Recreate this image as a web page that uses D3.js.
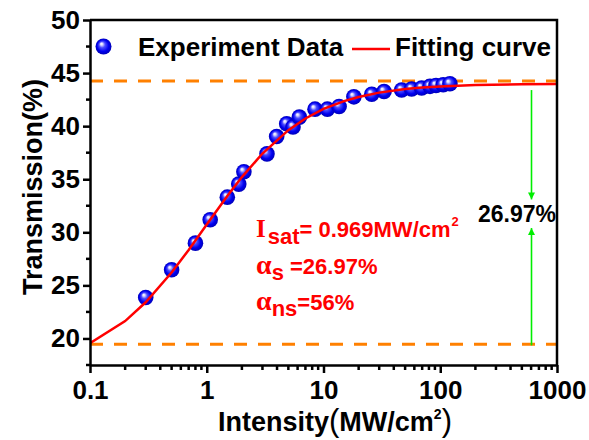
<!DOCTYPE html>
<html>
<head>
<meta charset="utf-8">
<script src="https://cdn.jsdelivr.net/npm/d3@7"></script>
<style>
  html, body { margin: 0; padding: 0; background: #fff; }
  svg { display: block; }
  text { font-family: "Liberation Sans", Arial, sans-serif; font-weight: bold; }
</style>
</head>
<body>
<svg id="chart" width="589" height="440"></svg>
<script>
// Measured transmission vs. incident intensity
const intensity = [0.30, 0.50, 0.80, 1.07, 1.50, 1.88, 2.08, 3.28, 3.97, 4.84, 5.48, 6.21,
                   8.46, 10.8, 13.6, 18.2, 25.9, 33.0, 46.7, 56.9, 69.3, 81.7, 92, 106, 121];
const transmission = [23.86, 26.47, 28.98, 31.18, 33.31, 34.54, 35.70, 37.39, 39.02, 40.22, 39.93, 40.85,
                      41.60, 41.60, 41.85, 42.76, 43.00, 43.26, 43.40, 43.50, 43.60, 43.75, 43.83, 43.90, 44.00];

// Saturable-absorption fitting curve (sampled)
const fitIntensity = [0.1, 0.2, 0.3, 0.5, 0.7, 1, 1.5, 2, 3, 5, 7, 10, 15, 20, 30, 50, 70, 100, 200, 500, 1000];
const fitTransmission = [19.55, 21.64, 23.41, 26.21, 28.34, 30.73, 33.42, 35.20, 37.42, 39.62, 40.72, 41.62,
                         42.36, 42.75, 43.16, 43.49, 43.63, 43.74, 43.87, 43.95, 43.97];

// Reference levels and modulation depth marker
const levelHigh = 44.25;
const levelLow = 19.45;
const arrowTop = [43.4, 33.1];     // start, tip
const arrowBottom = [19.35, 30.4]; // start, tip

const xTickValues = [0.1, 1, 10, 100, 1000];
const xTickLabels = ["0.1", "1", "10", "100", "1000"];
const yTickValues = [20, 25, 30, 35, 40, 45, 50];
const yMinorValues = [17.5, 22.5, 27.5, 32.5, 37.5, 42.5, 47.5];

const svg = d3.select("#chart");
const mLeft = 90, mRight = 557, mTop = 20, mBottom = 365;

const x = d3.scaleLog().domain([0.1, 1000]).range([mLeft, mRight]);
const y = d3.scaleLinear().domain([17.5, 50]).range([mBottom, mTop]);

// glossy sphere marker
const defs = svg.append("defs");
const grad = defs.append("radialGradient").attr("id", "ball")
  .attr("cx", "50%").attr("cy", "50%").attr("r", "50%")
  .attr("fx", "36%").attr("fy", "32%");
[["0%", "#ffffff"], ["14%", "#dcdcff"], ["38%", "#4b4bff"], ["72%", "#0000f0"], ["100%", "#0000b8"]]
  .forEach(([o, c]) => grad.append("stop").attr("offset", o).attr("stop-color", c));
defs.append("clipPath").attr("id", "plotClip").append("rect")
  .attr("x", mLeft).attr("y", mTop).attr("width", mRight - mLeft).attr("height", mBottom - mTop);

const plot = svg.append("g").attr("clip-path", "url(#plotClip)");

// dashed reference levels
[levelHigh, levelLow].forEach(v => {
  plot.append("line")
    .attr("x1", mLeft).attr("x2", mRight)
    .attr("y1", y(v)).attr("y2", y(v))
    .attr("stroke", "#ff8000").attr("stroke-width", 3)
    .attr("stroke-dasharray", "13,11");
});

// green arrows
defs.append("marker").attr("id", "arrowHead")
  .attr("viewBox", "0 0 10 10").attr("refX", 10).attr("refY", 5)
  .attr("markerWidth", 10).attr("markerHeight", 7).attr("orient", "auto")
  .attr("markerUnits", "userSpaceOnUse")
  .append("path").attr("d", "M0,0 L10,5 L0,10 Z").attr("fill", "#00ee00");
const ax = 531.5;
[arrowTop, arrowBottom].forEach(a => {
  plot.append("line")
    .attr("x1", ax).attr("x2", ax)
    .attr("y1", y(a[0])).attr("y2", y(a[1]))
    .attr("stroke", "#00ee00").attr("stroke-width", 1.6)
    .attr("marker-end", "url(#arrowHead)");
});

// data points
plot.append("g").selectAll("circle")
  .data(intensity.map((d, i) => [d, transmission[i]]))
  .join("circle")
  .attr("cx", d => x(d[0])).attr("cy", d => y(d[1]))
  .attr("r", 7.8).attr("fill", "url(#ball)");

// fitting curve
plot.append("path")
  .datum(fitIntensity.map((d, i) => [d, fitTransmission[i]]))
  .attr("d", d3.line().x(d => x(d[0])).y(d => y(d[1])))
  .attr("fill", "none").attr("stroke", "#ff0000").attr("stroke-width", 2.5);

// axes
const xAxis = d3.axisBottom(x).tickValues(xTickValues)
  .tickFormat((d, i) => xTickLabels[i]).tickSize(8).tickSizeOuter(0).tickPadding(8);
const xMinor = [];
[0.1, 1, 10, 100].forEach(dec => { for (let k = 2; k <= 9; k++) xMinor.push(dec * k); });

const gx = svg.append("g").attr("transform", `translate(0,${mBottom})`).call(xAxis);
gx.selectAll(".tick text").attr("font-size", 26).attr("font-family", "Liberation Sans, Arial, sans-serif").attr("font-weight", "bold").attr("fill", "#000");
gx.selectAll(".tick line").attr("stroke-width", 2.5);
gx.select(".domain").attr("stroke-width", 2.5);
gx.selectAll(".minor").data(xMinor).join("line").attr("class", "minor")
  .attr("x1", d => x(d)).attr("x2", d => x(d)).attr("y1", 0).attr("y2", 5)
  .attr("stroke", "#000").attr("stroke-width", 2.5);

const yAxis = d3.axisLeft(y).tickValues(yTickValues).tickSize(7).tickSizeOuter(0).tickPadding(3);
const gy = svg.append("g").attr("transform", `translate(${mLeft},0)`).call(yAxis);
gy.selectAll(".tick text").attr("font-size", 26).attr("font-family", "Liberation Sans, Arial, sans-serif").attr("font-weight", "bold").attr("fill", "#000");
gy.selectAll(".tick line").attr("stroke-width", 2.5);
gy.select(".domain").attr("stroke-width", 2.5);
gy.selectAll(".minor").data(yMinorValues).join("line").attr("class", "minor")
  .attr("y1", d => y(d)).attr("y2", d => y(d)).attr("x1", 0).attr("x2", -4)
  .attr("stroke", "#000").attr("stroke-width", 2.5);

// frame top and right
svg.append("path")
  .attr("d", `M${mLeft},${mTop} H${mRight} V${mBottom}`)
  .attr("fill", "none").attr("stroke", "#000").attr("stroke-width", 2.5);

// axis titles
svg.append("text")
  .attr("transform", `translate(42,187) rotate(-90)`)
  .attr("text-anchor", "middle").attr("font-size", 27).attr("fill", "#000")
  .text("Transmission(%)");

const xt = svg.append("text").attr("x", 335).attr("y", 431)
  .attr("text-anchor", "middle").attr("font-size", 27).attr("fill", "#000");
xt.append("tspan").text("Intensity");
xt.append("tspan").attr("font-size", 31).attr("font-weight", "normal").text("(");
xt.append("tspan").text("MW/cm");
xt.append("tspan").attr("font-size", 14).attr("dy", -12).text("2");
xt.append("tspan").attr("font-size", 31).attr("font-weight", "normal").attr("dy", 12).text(")");

// legend
svg.append("circle").attr("cx", 103.5).attr("cy", 46.5).attr("r", 8).attr("fill", "url(#ball)");
svg.append("text").attr("x", 138).attr("y", 56).attr("font-size", 26).attr("fill", "#000").text("Experiment Data");
svg.append("line").attr("x1", 352).attr("x2", 390).attr("y1", 49).attr("y2", 49)
  .attr("stroke", "#ff0000").attr("stroke-width", 2.5);
svg.append("text").attr("x", 395).attr("y", 56).attr("font-size", 26).attr("fill", "#000").text("Fitting curve");

// fit parameters
const red = "#ff0000";
const t1 = svg.append("text").attr("x", 256).attr("y", 237).attr("font-size", 22).attr("fill", red);
t1.append("tspan").attr("font-family", "Liberation Serif, serif").attr("font-size", 25).text("I");
t1.append("tspan").attr("dy", 7).attr("dx", 2).text("sat");
t1.append("tspan").attr("dy", -7).text("= 0.969MW/cm");
t1.append("tspan").attr("dy", -11).attr("dx", 1).attr("font-size", 13).text("2");

const t2 = svg.append("text").attr("x", 256).attr("y", 274).attr("font-size", 22).attr("fill", red);
t2.append("tspan").attr("font-family", "Liberation Serif, serif").attr("font-size", 28).text("α");
t2.append("tspan").attr("dy", 6).text("s");
t2.append("tspan").attr("dy", -6).text(" =26.97%");

const t3 = svg.append("text").attr("x", 256).attr("y", 310).attr("font-size", 22).attr("fill", red);
t3.append("tspan").attr("font-family", "Liberation Serif, serif").attr("font-size", 28).text("α");
t3.append("tspan").attr("dy", 6).text("ns");
t3.append("tspan").attr("dy", -6).text("=56%");

// modulation depth label
svg.append("text").attr("x", 478).attr("y", 222).attr("font-size", 23).attr("fill", "#000").text("26.97%");
</script>
</body>
</html>
